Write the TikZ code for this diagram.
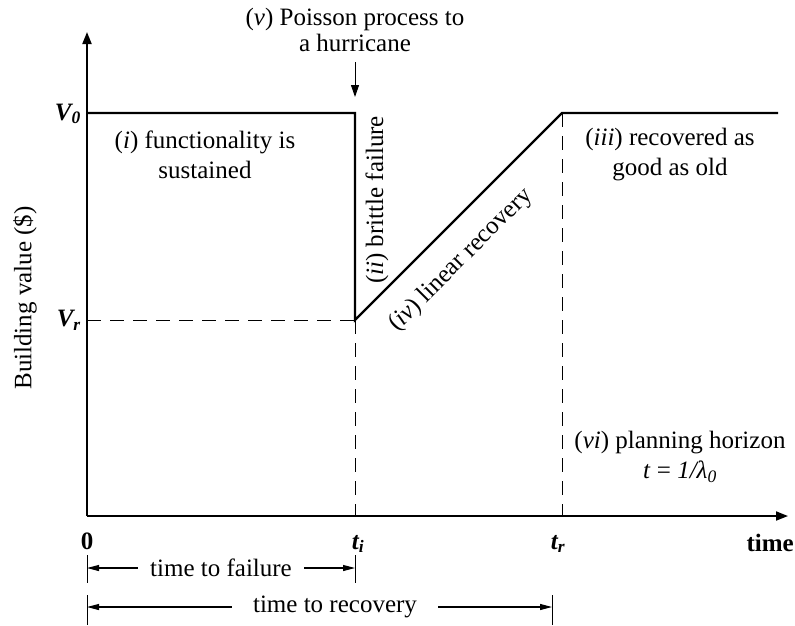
\documentclass[tikz,border=0pt]{standalone}
\usepackage{fontspec}
\setmainfont{Liberation Serif}
\usetikzlibrary{arrows.meta}
\begin{document}
\begin{tikzpicture}[x=1pt,y=-1pt,
  txt/.style={font=\fontsize{25}{30}\selectfont, inner sep=0pt, align=center},
  lab/.style={font=\fontsize{25}{30}\selectfont\bfseries\itshape, inner sep=0pt},
  axis/.style={line width=1.8pt},
  curve/.style={line width=2.2pt, line join=miter},
  guide/.style={line width=1pt, dash pattern=on 14pt off 9pt},
  tickline/.style={line width=0.8pt},
  dim/.style={line width=1.1pt, -{Triangle[length=12pt,width=6pt]}},
  bigtip/.style={-{Triangle[length=12pt,width=9pt]}},
]
\useasboundingbox (0,0) rectangle (795,625);
% key points
\coordinate (O) at (87,516);
\coordinate (Ytop) at (87,32);
\coordinate (Xend) at (788,516);
\coordinate (A) at (87,113);
\coordinate (B) at (355,113);
\coordinate (C) at (355,320);
\coordinate (D) at (562,113);
\coordinate (E) at (778,113);
\coordinate (Vrl) at (87,320);
\coordinate (Ti) at (355,516);
\coordinate (Tr) at (562,516);
% axes
\draw[axis,bigtip] (O) -- (Ytop);
\draw[axis,bigtip] (O) -- (Xend);
% value curve
\draw[curve] (A) -- (B) -- (C) -- (D) -- (E);
% guides
\draw[guide] (Vrl) -- (C);
\draw[guide] (C) -- (Ti);
\draw[guide] (D) -- (Tr);
% axis labels
\node[lab, anchor=east] (V0) at (81,114) {V\textsubscript{0}};
\node[lab, anchor=east] (Vr) at (81,320) {V\textsubscript{r}};
\node[txt, rotate=90] (ylab) at (25,298) {Building value (\$)};
\node[lab, font=\fontsize{25}{30}\selectfont\bfseries] (zero) at (87,541) {0};
\node[lab] (ti) at (358,544) {t\textsubscript{i}};
\node[lab] (tr) at (558,544) {t\textsubscript{r}};
\node[lab, font=\fontsize{25}{30}\selectfont\bfseries, anchor=east] (time) at (794,543) {time};
% annotations
\node[txt, font=\fontsize{25}{26}\selectfont] (pois) at (355,30) {(\textit{v}) Poisson process to\\a hurricane};
\coordinate (parr1) at (355,62);
\coordinate (parr2) at (355,97);
\draw[line width=1pt, -{Triangle[length=12pt,width=8pt]}] (parr1) -- (parr2);
\node[txt] (fi) at (205,155) {(\textit{i}) functionality is\\sustained};
\node[txt, rotate=90] (bf) at (377,200) {(\textit{ii}) brittle failure};
\node[txt, rotate=45] (lr) at (461,260) {(\textit{iv}) linear recovery};
\node[txt] (rec) at (670,155) {(\textit{iii}) recovered as\\good as old};
\node[txt] (ph) at (680,457) {(\textit{vi}) planning horizon\\\textit{t} = \textit{1/λ\textsubscript{0}}};
% time to failure
\coordinate (f1a) at (87,555); \coordinate (f1b) at (87,583);
\coordinate (f2a) at (355,555); \coordinate (f2b) at (355,583);
\draw[tickline] (f1a) -- (f1b);
\draw[tickline] (f2a) -- (f2b);
\coordinate (fl) at (87,568); \coordinate (fr) at (355,568);
\node[txt, inner xsep=12pt] (ttf) at (221,568) {time to failure};
\draw[dim] (ttf.west) -- (fl);
\draw[dim] (ttf.east) -- (fr);
% time to recovery
\coordinate (r1a) at (87,595); \coordinate (r1b) at (87,625);
\coordinate (r2a) at (552,595); \coordinate (r2b) at (552,625);
\draw[tickline] (r1a) -- (r1b);
\draw[tickline] (r2a) -- (r2b);
\coordinate (rl) at (87,607); \coordinate (rr) at (552,607);
\node[txt, inner xsep=21pt] (ttr) at (335,607) {time to recovery};
\draw[dim] (ttr.west) -- (rl);
\draw[dim] (ttr.east) -- (rr);
\end{tikzpicture}
\end{document}
